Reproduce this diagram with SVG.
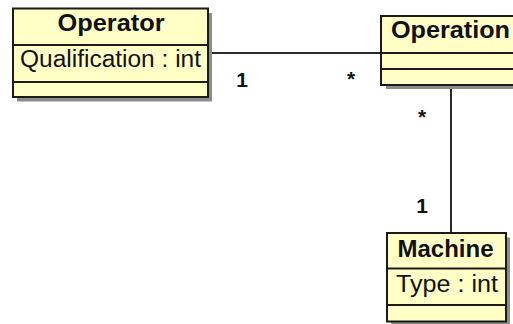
<svg xmlns="http://www.w3.org/2000/svg" width="513" height="324" viewBox="0 0 513 324">
  <style>
    .box { fill: #FFFFC6; stroke: #1a1a1a; stroke-width: 2; }
    .shadow { fill: #8c8c8c; }
    .div { stroke: #1a1a1a; stroke-width: 2; }
    .title { font-family: "Liberation Sans", Arial, sans-serif; font-weight: bold; font-size: 23px; fill: #111; }
    .attr { font-family: "Liberation Sans", Arial, sans-serif; font-size: 23px; fill: #111; }
    .edge { stroke: #2a2a2a; stroke-width: 2; fill: none; }
    .mult { font-family: "Liberation Sans", Arial, sans-serif; font-weight: bold; font-size: 21px; fill: #111; text-anchor: middle; }
  </style>

  <!-- associations -->
  <g id="connectors">
    <line class="edge" x1="208" y1="53" x2="381" y2="53"/>
    <line class="edge" x1="451" y1="85" x2="451" y2="233"/>
    <text class="mult" x="242" y="87">1</text>
    <text class="mult" x="351" y="86">*</text>
    <text class="mult" x="422" y="124">*</text>
    <text class="mult" x="422" y="213">1</text>
  </g>

  <!-- class Operator -->
  <g id="operator">
    <rect class="shadow" x="17" y="13" width="195" height="88.5"/>
    <rect class="box" x="13" y="8.5" width="195" height="88.5"/>
    <line class="div" x1="13" y1="45" x2="208" y2="45"/>
    <line class="div" x1="13" y1="82" x2="208" y2="82"/>
    <text class="title" x="111" y="30.5" text-anchor="middle" textLength="107" lengthAdjust="spacingAndGlyphs">Operator</text>
    <text class="attr" x="20" y="66.5" textLength="181" lengthAdjust="spacingAndGlyphs">Qualification : int</text>
  </g>

  <!-- class Operation -->
  <g id="operation">
    <rect class="shadow" x="386" y="20" width="140" height="69"/>
    <rect class="box" x="381" y="16" width="140" height="69"/>
    <line class="div" x1="381" y1="53" x2="521" y2="53"/>
    <line class="div" x1="381" y1="69" x2="521" y2="69"/>
    <text class="title" x="391" y="37.5" textLength="119" lengthAdjust="spacingAndGlyphs">Operation</text>
  </g>

  <!-- class Machine -->
  <g id="machine">
    <rect class="shadow" x="391" y="237.5" width="119" height="88.5"/>
    <rect class="box" x="387" y="233" width="119" height="88.5"/>
    <line class="div" x1="387" y1="268.5" x2="506" y2="268.5"/>
    <line class="div" x1="387" y1="305" x2="506" y2="305"/>
    <text class="title" x="445.5" y="257" text-anchor="middle" textLength="96" lengthAdjust="spacingAndGlyphs">Machine</text>
    <text class="attr" x="396" y="292" textLength="102" lengthAdjust="spacingAndGlyphs">Type : int</text>
  </g>
</svg>
